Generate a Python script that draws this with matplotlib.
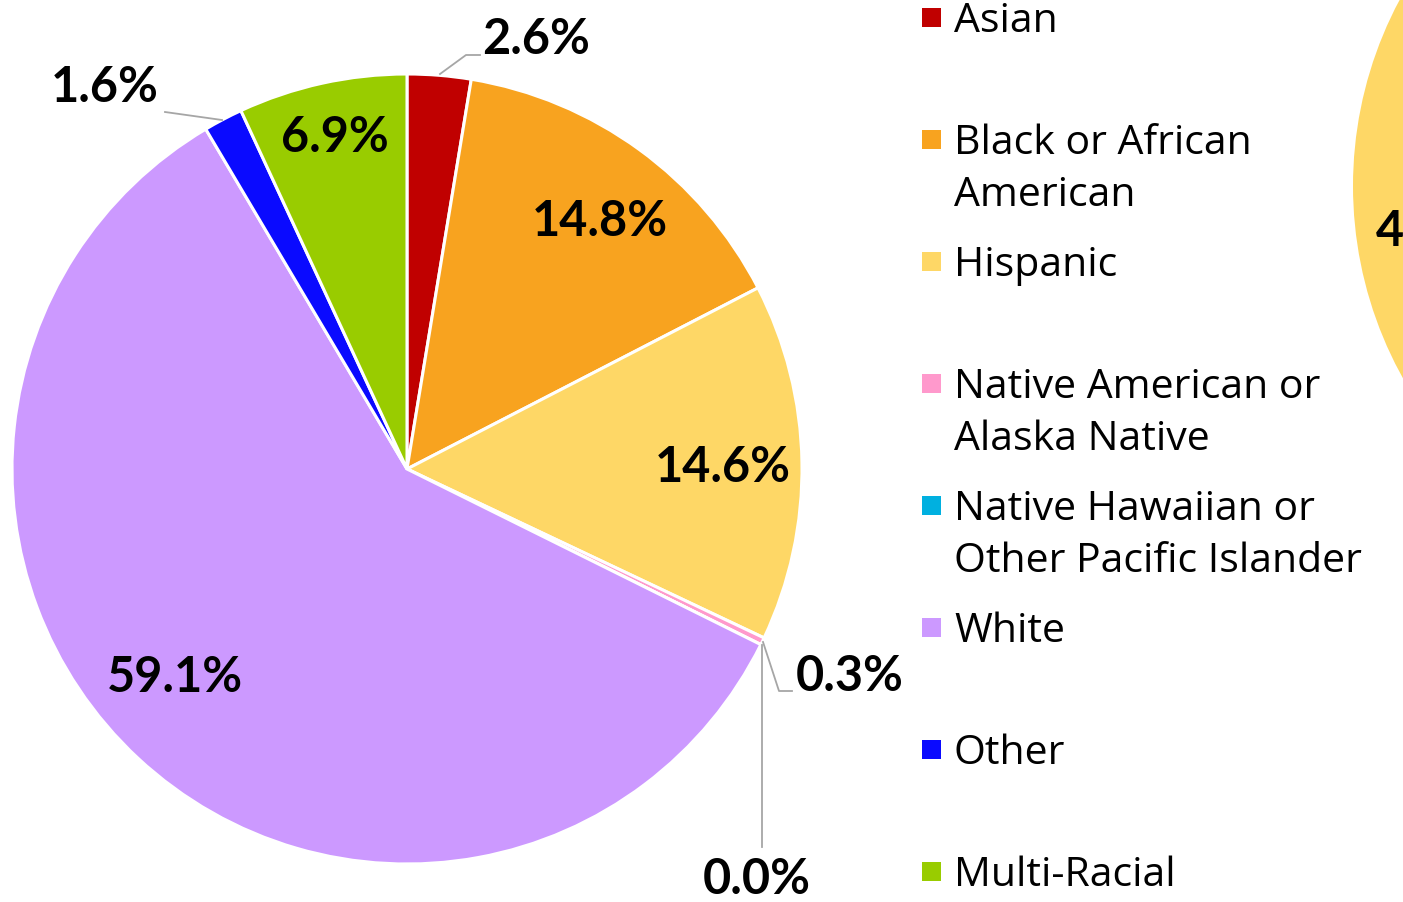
"""Race/ethnicity share pie chart with side legend."""

import matplotlib
matplotlib.use("Agg")
import matplotlib.pyplot as plt
from matplotlib.patches import Circle, Rectangle

plt.rcParams["font.family"] = ["Lato", "DejaVu Sans"]

# ------------------------------------------------------------------
# Data
# ------------------------------------------------------------------
groups = [
    "Asian",
    "Black or African\nAmerican",
    "Hispanic",
    "Native American or\nAlaska Native",
    "Native Hawaiian or\nOther Pacific Islander",
    "White",
    "Other",
    "Multi-Racial",
]
shares = [2.6, 14.8, 14.6, 0.3, 0.0, 59.1, 1.6, 6.9]
colors = ["#C00000", "#F8A31F", "#FED766", "#FF99CC",
          "#00B0E0", "#CC99FF", "#0A0AFF", "#99CC00"]

W, H = 1403, 903
CX, CY, R = 407, 470, 395   # pie centre / radius in pixels

# label layout in pixels: (text x, text y, ha, leader line points or None)
label_layout = [
    (482, 40, "left", [(440, 75), (466, 56), (480, 56)]),
    (600, 222, "center", None),
    (723, 468, "center", None),
    (796, 677, "left", [(763, 643), (779, 692), (792, 692)]),
    (757, 880, "center", [(762, 646), (762, 848)]),
    (175, 678, "center", None),
    (105, 88, "center", [(222, 121), (165, 113)]),
    (335, 138, "center", None),
]


def px(x, y):
    """pixel (from top-left) -> pie data coords"""
    return (x - CX) / R, (CY - y) / R


fig = plt.figure(figsize=(W / 100, H / 100), dpi=100)

ax = fig.add_axes([(CX - R) / W, (H - CY - R) / H, 2 * R / W, 2 * R / H])
ax.pie(shares, colors=colors, startangle=90, counterclock=False, radius=1,
       wedgeprops=dict(edgecolor="white", linewidth=2.2))
ax.set_xlim(-1, 1)
ax.set_ylim(-1, 1)
ax.set_aspect("equal")
ax.axis("off")

for v, (tx, ty, ha, line) in zip(shares, label_layout):
    x, y = px(tx, ty)
    ax.text(x, y, f"{v:.1f}%", ha=ha, va="center", fontsize=35,
            fontweight="bold", color="black", clip_on=False, zorder=5)
    if line:
        pts = [px(a, b) for a, b in line]
        ax.plot([p[0] for p in pts], [p[1] for p in pts], color="#A6A6A6",
                lw=1.3, clip_on=False, zorder=4)

# ------------------------------------------------------------------
# Legend (manual, fixed row spacing)
# ------------------------------------------------------------------
row0, step = 18, 122
for i, (name, c) in enumerate(zip(groups, colors)):
    yc = row0 + i * step
    fig.add_artist(Rectangle((922 / W, (H - yc - 9.5) / H), 19 / W, 19 / H,
                             transform=fig.transFigure, color=c, lw=0))
    for j, line in enumerate(name.split("\n")):
        fig.text(954 / W, (H - (yc + 14.5 + 52 * j)) / H, line,
                 ha="left", va="baseline", fontsize=29.5, color="black",
                 family=["Open Sans", "DejaVu Sans"])

# neighbouring chart, cut off at the right edge
ax2 = fig.add_axes([(1748 - R) / W, (H - 187 - R) / H, 2 * R / W, 2 * R / H])
ax2.add_patch(Circle((0, 0), 1, color="#FED766", lw=0))
ax2.set_xlim(-1, 1)
ax2.set_ylim(-1, 1)
ax2.set_aspect("equal")
ax2.axis("off")
fig.text(1376 / W, (H - 232) / H, "4", ha="left", va="center",
         fontsize=35, fontweight="bold", color="black")

fig.savefig("out.png", dpi=100)
